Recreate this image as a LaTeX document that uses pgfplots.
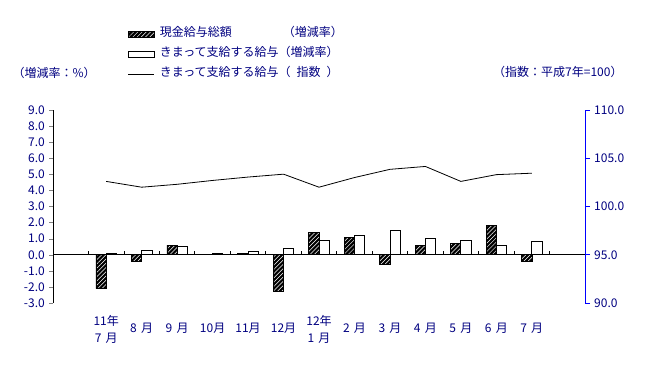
\documentclass[border=0pt]{standalone}
\usepackage{fontspec}
\setmainfont{Noto Sans CJK JP}
\usepackage{pgfplots}
\pgfplotsset{compat=1.18}
\usetikzlibrary{patterns.meta}
\definecolor{navy}{RGB}{0,0,128}
\pgfplotsset{
  rectleg/.style={legend image code/.code={\draw[##1] (0pt,-3pt) rectangle (26pt,3pt);}},
  lineleg/.style={legend image code/.code={\draw[##1] (0pt,0pt) -- (26pt,0pt);}},
}
\begin{document}
\fontsize{12}{15}\selectfont
\begin{tikzpicture}
\path[use as bounding box] (0,0) rectangle (647pt,382pt);
\pgfplotsset{
  common/.style={
    scale only axis, width=532pt, height=193pt,
    at={(53pt,79pt)}, anchor=south west,
    xmin=-0.5, xmax=14.5,
    /pgf/number format/assume math mode=true,
    /pgf/number format/.cd, fixed, fixed zerofill, precision=1, /pgfplots/.cd,
    tick label style={font=\fontsize{12}{15}\selectfont, text=navy},
    tick align=outside,
  },
  hatched/.style={draw=black, fill=black, line width=0.6pt,
    postaction={pattern={Lines[angle=45,distance=3pt,line width=0.5pt]}, pattern color=white}},
  whitebar/.style={draw=black, fill=white, line width=0.8pt},
}
% left axis with bars
\begin{axis}[common, clip=false,
  ymin=-3, ymax=9, ytick={-3,-2,...,9},
  axis y line*=left, axis x line*=bottom,
  x axis line style={draw=none},
  xtick={1,...,13}, xtick style={draw=none},
  major tick length=4pt,
  xticklabels={{11年\\7\hspace{0.35em}月},{\mbox{}\\8\hspace{0.35em}月},{\mbox{}\\9\hspace{0.35em}月},{\mbox{}\\10月},{\mbox{}\\11月},{\mbox{}\\12月},{12年\\1\hspace{0.35em}月},{\mbox{}\\2\hspace{0.35em}月},{\mbox{}\\3\hspace{0.35em}月},{\mbox{}\\4\hspace{0.35em}月},{\mbox{}\\5\hspace{0.35em}月},{\mbox{}\\6\hspace{0.35em}月},{\mbox{}\\7\hspace{0.35em}月}},
  xticklabel style={align=center, font=\fontsize{12}{17}\selectfont, yshift=-4pt},
]
\addplot[ybar, bar width=0.29, bar shift=-0.145, hatched] coordinates {
 (1,-2.1) (2,-0.4) (3,0.6) (4,0) (5,0.1) (6,-2.3) (7,1.4) (8,1.1) (9,-0.6) (10,0.6) (11,0.7) (12,1.8) (13,-0.4)};
\addplot[ybar, bar width=0.29, bar shift=0.145, whitebar] coordinates {
 (1,0.1) (2,0.3) (3,0.5) (4,0.1) (5,0.2) (6,0.4) (7,0.9) (8,1.2) (9,1.5) (10,1.0) (11,0.9) (12,0.6) (13,0.8)};
\draw[black, line width=0.8pt] (axis cs:-0.5,0) -- (axis cs:14.5,0);
\pgfplotsinvokeforeach{0.5,1.5,2.5,3.5,4.5,5.5,6.5,7.5,8.5,9.5,10.5,11.5,12.5,13.5}{
  \draw[black, line width=0.8pt] (axis cs:#1,0) -- ++(0pt,4pt);
}
\node[text=navy, anchor=center, inner sep=0pt] at (axis description cs:0.002,1.192) {（増減率：\%）};
\node[text=navy, anchor=center, inner sep=0pt] at (axis description cs:0.949,1.197) {（指数：平成7年=100）};
\end{axis}
% right axis with line
\begin{axis}[common,
  ymin=90, ymax=110, ytick={90,95,...,110},
  axis y line*=right, axis x line=none,
  y axis line style={blue, line width=0.8pt}, ytick style={blue, line width=0.8pt},
  major tick length=5pt,
  legend cell align=left,
  legend style={at={(axis description cs:0.141,1.425)}, anchor=north west,
    draw=none, fill=none, inner sep=0pt, outer sep=0pt,
    row sep=8pt, column sep=5pt,
    nodes={inner sep=0pt, text=navy, text height=9pt, text depth=3pt, font=\fontsize{12}{15}\selectfont}},
]
\addlegendimage{hatched, rectleg}
\addlegendentry{\makebox[123pt][l]{現金給与総額}（増減率）}
\addlegendimage{whitebar, rectleg}
\addlegendentry{きまって支給する給与（増減率）}
\addplot[black, line width=0.8pt, no marks, lineleg] coordinates {
 (1,102.6) (2,102.0) (3,102.3) (4,102.7) (5,103.05) (6,103.35) (7,102.0) (8,103.0) (9,103.85) (10,104.15) (11,102.6) (12,103.3) (13,103.45)};
\addlegendentry{きまって支給する給与（\hspace{0.5em}指数\hspace{0.5em}）}
\end{axis}
\end{tikzpicture}
\end{document}
